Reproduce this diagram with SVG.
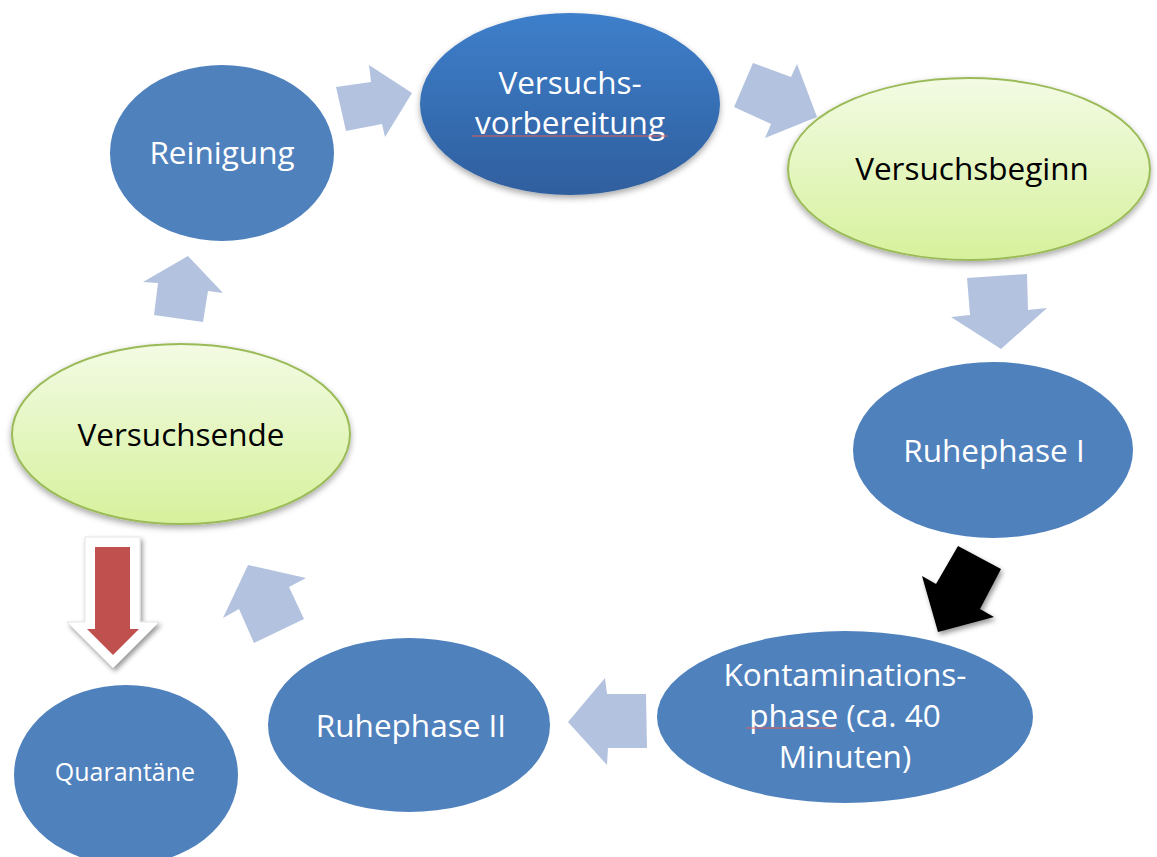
<svg xmlns="http://www.w3.org/2000/svg" width="1157" height="857" viewBox="0 0 1157 857">
<defs>
<linearGradient id="gBlue" x1="0" y1="0" x2="0" y2="1"><stop offset="0" stop-color="#3E7FCB"/><stop offset="1" stop-color="#2F5F9E"/></linearGradient>
<linearGradient id="gGreen" x1="0" y1="0" x2="0" y2="1"><stop offset="0" stop-color="#F3FBE4"/><stop offset="1" stop-color="#D6F19C"/></linearGradient>
<filter id="sh" x="-20%" y="-20%" width="140%" height="150%"><feDropShadow dx="0" dy="3" stdDeviation="3" flood-color="#000" flood-opacity="0.35"/></filter>
<filter id="sh2" x="-30%" y="-30%" width="160%" height="160%"><feDropShadow dx="2" dy="3" stdDeviation="2.5" flood-color="#000" flood-opacity="0.4"/></filter>
</defs>
<style>
.b{fill:#4F81BD}
.g{fill:url(#gGreen);stroke:#9BBB59;stroke-width:2;filter:url(#sh)}
.w{font-family:"Open Sans","Liberation Sans",sans-serif;font-size:31.5px;fill:#fff;text-anchor:middle}
.k{font-family:"Open Sans","Liberation Sans",sans-serif;font-size:31.5px;fill:#000;text-anchor:middle}
.a{fill:#B3C3DF}
.sq{stroke:#E06060;stroke-width:1;fill:none}
</style>
<g id="connectors">
<polygon class="a" points="336,87 371,82 369,65 412,93 385,137 382,124 346,131"/>
<polygon class="a" points="753,63 791,77 797,64 817,117 765,138 771,124 734,107"/>
<polygon class="a" points="967,278 1027,274 1028,310 1047,308 1001,349 951,317 970,315"/>
<polygon fill="#000" filter="url(#sh2)" points="958,546 1001,569 980,609 994,617 938,632 922,576 936,584"/>
<polygon class="a" points="568,722 605,678 607,694 646,694 647,748 608,748 607,765"/>
<polygon class="a" points="248,565 306,578 289,587 304,619 254,643 239,609 223,618"/>
<polygon class="a" points="188,256 223,293 208,291 203,322 154,315 158,283 143,282"/>
<g id="red-arrow">
<polygon fill="#fff" stroke="#E4E4E4" stroke-width="1" filter="url(#sh2)" points="85,537 140,537 140,622 159,622 113,668 67,622 85,622"/>
<polygon fill="#C0504D" points="95,547 130,547 130,629 139,629 113,655 87,629 95,629"/>
</g>
</g>
<g id="n-reinigung"><ellipse class="b" cx="222" cy="153" rx="112" ry="88"/><text class="w" x="222" y="164">Reinigung</text></g>
<g id="n-vorbereitung"><ellipse cx="570" cy="104" rx="150" ry="91" fill="url(#gBlue)" filter="url(#sh)"/><text class="w" x="570" y="94">Versuchs-</text><text class="w" x="570" y="134">vorbereitung</text><line class="sq" x1="472" y1="136" x2="668" y2="136"/></g>
<g id="n-beginn"><ellipse class="g" cx="969" cy="169" rx="181" ry="91"/><text class="k" x="972" y="180">Versuchsbeginn</text></g>
<g id="n-ruhe1"><ellipse class="b" cx="993" cy="450" rx="140" ry="88"/><text class="w" x="994" y="462">Ruhephase I</text></g>
<g id="n-kontamination"><ellipse class="b" cx="845" cy="717" rx="188" ry="86"/><text class="w" x="845" y="686">Kontaminations-</text><text class="w" x="845" y="727">phase (ca. 40</text><text class="w" x="845" y="768">Minuten)</text><line class="sq" x1="746" y1="728" x2="836" y2="728"/></g>
<g id="n-ruhe2"><ellipse class="b" cx="409" cy="725" rx="141" ry="87"/><text class="w" x="411" y="737">Ruhephase II</text></g>
<g id="n-ende"><ellipse class="g" cx="181" cy="434" rx="169" ry="90"/><text class="k" x="181" y="446">Versuchsende</text></g>
<g id="n-quarantaene"><ellipse class="b" cx="126" cy="775" rx="112" ry="90"/><text class="w" x="125" y="781" style="font-size:25px">Quarantäne</text></g>
</svg>
